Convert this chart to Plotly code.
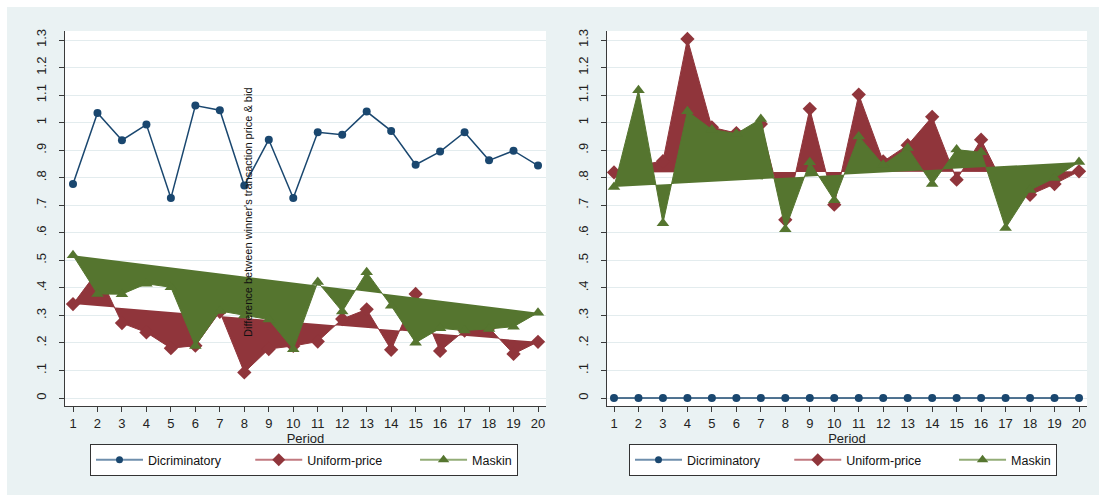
import plotly.graph_objects as go

# Periods on the x axis
periods = list(range(1, 21))

# Left panel: difference between winner's transaction price & bid
left_disc = [0.777, 1.035, 0.936, 0.993, 0.726, 1.062, 1.045, 0.772, 0.938, 0.726,
             0.965, 0.956, 1.040, 0.970, 0.847, 0.895, 0.965, 0.863, 0.898, 0.844]
left_unif = [0.341, 0.460, 0.272, 0.238, 0.181, 0.190, 0.313, 0.093, 0.178, 0.189,
             0.205, 0.287, 0.322, 0.175, 0.378, 0.171, 0.245, 0.255, 0.160, 0.204]
left_mask = [0.518, 0.378, 0.377, 0.415, 0.402, 0.189, 0.316, 0.300, 0.285, 0.177,
             0.421, 0.314, 0.457, 0.335, 0.201, 0.253, 0.245, 0.251, 0.259, 0.310]

# Right panel
right_disc = [0, 0, 0, 0, 0, 0, 0, 0, 0, 0, 0, 0, 0, 0, 0, 0, 0, 0, 0, 0]
right_unif = [0.819, 0.845, 0.860, 1.304, 0.983, 0.962, 0.995, 0.647, 1.050, 0.702,
              1.102, 0.859, 0.918, 1.021, 0.793, 0.938, 0.760, 0.738, 0.777, 0.823]
right_mask = [0.766, 1.118, 0.635, 1.041, 0.975, 0.960, 1.013, 0.613, 0.856, 0.718,
              0.950, 0.847, 0.908, 0.777, 0.902, 0.892, 0.617, 0.755, 0.799, 0.857]

series_names = ["Dicriminatory", "Uniform-price", "Maskin"]
y_ticks = [i / 10 for i in range(0, 14)]
y_tick_text = ["0", ".1", ".2", ".3", ".4", ".5", ".6", ".7", ".8", ".9", "1", "1.1", "1.2", "1.3"]
y_title = "Difference between winner's transaction price & bid"

NAVY = "#1A476F"
MAROON = "#90353B"
GREEN = "#55752F"
LEG_COLORS = ["#6F8FAD", "#C27A80", "#93AD77"]
SYMBOLS = ["circle", "diamond", "triangle-up"]
SIZES = [8, 11, 11]
BG = "#EAF2F3"
FONT = "Liberation Sans, Arial, sans-serif"
NBSP = "\u00a0"
# extra spacing after each legend label so the keys spread across the box
LEG_PAD = [7, 8, 0]

fig = go.Figure()

panels = [
    ("x", "y", "legend", left_disc, left_unif, left_mask),
    ("x2", "y2", "legend2", right_disc, right_unif, right_mask),
]

for xa, ya, leg, disc, unif, mask in panels:
    # area series: the polygon of each series, closed from last period back to the first
    for vals, col, sym, size in [(unif, MAROON, "diamond", 11), (mask, GREEN, "triangle-up", 11)]:
        fig.add_trace(go.Scatter(
            x=periods, y=vals, xaxis=xa, yaxis=ya, mode="lines+markers",
            fill="toself", fillcolor=col, line=dict(color=col, width=1),
            marker=dict(symbol=sym, size=size, color=col),
            showlegend=False, hoverinfo="x+y"))
    fig.add_trace(go.Scatter(
        x=periods, y=disc, xaxis=xa, yaxis=ya, mode="lines+markers",
        line=dict(color=NAVY, width=1.5),
        marker=dict(symbol="circle", size=8, color=NAVY),
        showlegend=False))
    # legend keys
    for name, pad, lc, mc, sym, size in zip(series_names, LEG_PAD, LEG_COLORS,
                                             [NAVY, MAROON, GREEN], SYMBOLS, SIZES):
        fig.add_trace(go.Scatter(
            x=[None], y=[None], xaxis=xa, yaxis=ya, mode="lines+markers",
            name=name + NBSP * pad,
            line=dict(color=lc, width=2), marker=dict(symbol=sym, size=size - 1, color=mc),
            legend=leg, showlegend=True))

W, H = 1099, 496
def px_x(p):
    return p / W
def px_y(p):
    return 1 - p / H

axis_common = dict(
    showline=True, linecolor="#3A3A3A", linewidth=1.2,
    ticks="outside", ticklen=5, tickcolor="#3A3A3A", tickwidth=1.2,
    tickfont=dict(family=FONT, size=13, color="#222"),
    zeroline=False, automargin=False,
)
xaxis_common = dict(axis_common, tickvals=periods, showgrid=False,
                    title=dict(text="Period", font=dict(family=FONT, size=13, color="#222"), standoff=0))
yaxis_common = dict(axis_common, tickvals=y_ticks, ticktext=y_tick_text, tickangle=-90,
                    ticklabelstandoff=8,
                    range=[-0.029, 1.3327], showgrid=True, gridcolor="#E3ECEE", gridwidth=1.3)

legend_common = dict(
    orientation="h", bgcolor="white", bordercolor="#333", borderwidth=1,
    font=dict(family=FONT, size=12.5, color="#111"),
    xanchor="left", yanchor="top", itemwidth=47,
)

fig.update_layout(
    width=W, height=H, margin=dict(l=0, r=0, t=0, b=0),
    paper_bgcolor=BG, plot_bgcolor="white",
    showlegend=True,
    xaxis=dict(xaxis_common, domain=[px_x(65), px_x(546)], range=[0.6731, 20.327], anchor="y"),
    yaxis=dict(yaxis_common, domain=[px_y(406), px_y(31)], anchor="x"),
    xaxis2=dict(xaxis_common, domain=[px_x(607), px_x(1087)], range=[0.714, 20.327], anchor="y2"),
    yaxis2=dict(yaxis_common, domain=[px_y(406), px_y(31)], anchor="x2"),
    legend=dict(legend_common, x=px_x(90), y=px_y(444)),
    legend2=dict(legend_common, x=px_x(629), y=px_y(444)),
    shapes=[
        dict(type="rect", xref="paper", yref="paper", x0=0, x1=1, y0=px_y(7), y1=1,
             fillcolor="white", line=dict(width=0), layer="below"),
        dict(type="rect", xref="paper", yref="paper", x0=0, x1=px_x(7), y0=0, y1=1,
             fillcolor="white", line=dict(width=0), layer="below"),
        dict(type="rect", xref="paper", yref="paper", x0=0, x1=1, y0=0, y1=px_y(495),
             fillcolor="white", line=dict(width=0), layer="below"),
    ],
    annotations=[
        dict(text=y_title, xref="paper", yref="paper", x=px_x(247.5), y=px_y(212.5),
             textangle=-90, showarrow=False, font=dict(family=FONT, size=11, color="#111"),
             xanchor="center", yanchor="middle"),
    ],
)

fig.write_html("out.html")
